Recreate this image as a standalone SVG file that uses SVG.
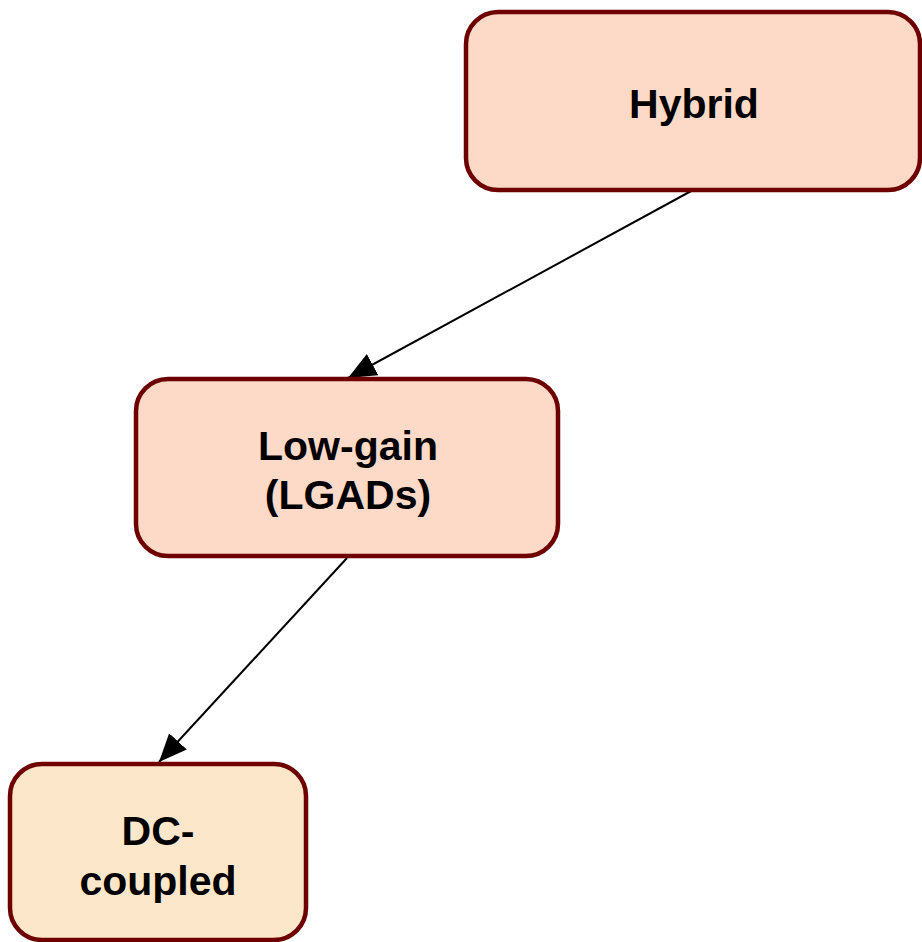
<svg xmlns="http://www.w3.org/2000/svg" width="922" height="942" viewBox="0 0 922 942">
<style>
.box{stroke:#6e0000;stroke-width:4.5}
.t{font-family:"Liberation Sans",Arial,sans-serif;font-weight:bold;font-size:41px;fill:#000;text-anchor:middle}
.c{stroke:#000;stroke-width:2;fill:none;marker-end:url(#ah)}
</style>
<defs>
<marker id="ah" markerUnits="userSpaceOnUse" markerWidth="30" markerHeight="26" refX="28" refY="12" orient="auto" viewBox="0 0 30 26">
<path d="M0,0 L28,12 L0,24 z" fill="#000"/>
</marker>
</defs>
<rect width="922" height="942" fill="#fff"/>
<g id="connectors">
<line class="c" x1="693" y1="190" x2="348" y2="378"/>
<line class="c" x1="347" y1="558" x2="159" y2="762"/>
</g>
<g id="hybrid">
<rect class="box" x="466" y="12" width="454" height="178" rx="32" fill="#fdd9c8"/>
<text class="t" x="694" y="118">Hybrid</text>
</g>
<g id="lowgain">
<rect class="box" x="136" y="379" width="422" height="177" rx="32" fill="#fdd9c8"/>
<text class="t" x="348" y="460">Low-gain</text>
<text class="t" x="348" y="509">(LGADs)</text>
</g>
<g id="dccoupled">
<rect class="box" x="10" y="764" width="296" height="176" rx="32" fill="#fde7cb"/>
<text class="t" x="158" y="845">DC-</text>
<text class="t" x="158" y="895">coupled</text>
</g>
</svg>
